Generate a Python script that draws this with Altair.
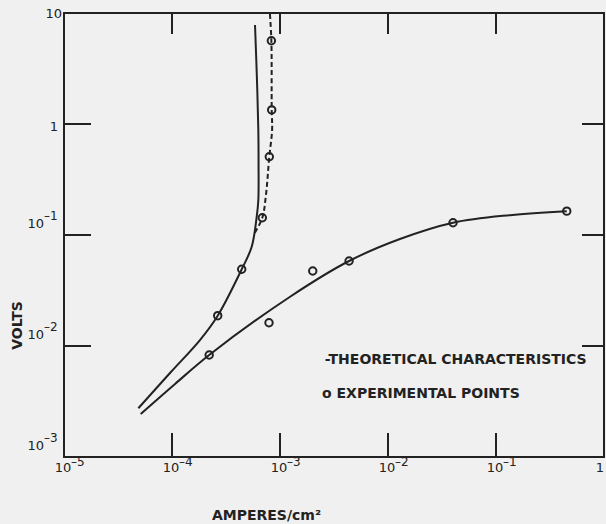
import altair as alt
import pandas as pd

# ---- data ----
exp_current = [8.32e-4, 8.38e-4, 7.96e-4, 6.86e-4, 4.42e-4, 2.65e-4, 2.21e-4, 7.91e-4, 2.01e-3, 4.36e-3, 4.0e-2, 4.52e-1]
exp_voltage = [5.62, 1.34, 0.507, 0.143, 0.0491, 0.01875, 0.0083, 0.0162, 0.0474, 0.0583, 0.129, 0.164]

# upper solid theoretical curve
theo_a_current = [4.88e-5, 9.58e-5, 1.815e-4, 2.65e-4, 4.42e-4, 5.47e-4, 6.08e-4, 6.30e-4, 6.33e-4, 6.30e-4, 6.12e-4, 5.87e-4]
theo_a_voltage = [2.75e-3, 5.71e-3, 0.01132, 0.01875, 0.0491, 0.0785, 0.145, 0.2066, 0.45, 0.883, 2.49, 7.8]

# dashed theoretical branch
theo_b_current = [5.85e-4, 6.86e-4, 7.41e-4, 7.96e-4, 8.45e-4, 8.38e-4, 8.32e-4, 8.07e-4]
theo_b_voltage = [0.105, 0.143, 0.229, 0.507, 0.883, 1.34, 5.62, 9.8]

# lower solid theoretical curve
theo_c_current = [5.13e-5, 1.067e-4, 2.21e-4, 1.24e-3, 4.36e-3, 0.0129, 0.040, 0.135, 0.452]
theo_c_voltage = [2.44e-3, 4.55e-3, 0.0083, 0.0278, 0.0583, 0.092, 0.129, 0.151, 0.164]

# tick labels
x_label_values = [1e-5, 1e-4, 1e-3, 1e-2, 1e-1]
x_label_bases = ["10", "10", "10", "10", "10"]
x_label_exps = ["–5", "–4", "–3", "–2", "–1"]
x_last_value = [1]
x_last_text = ["1"]
y_label_values = [1e-3, 1e-2, 1e-1]
y_label_bases = ["10", "10", "10"]
y_label_exps = ["–3", "–2", "–1"]
y_one_value = [1]
y_one_text = ["1"]
y_top_value = [10]
y_top_text = ["10"]

inner_x_ticks = [1e-4, 1e-3, 1e-2, 1e-1]
inner_y_ticks = [1e-2, 1e-1, 1]

legend_text = ["-THEORETICAL  CHARACTERISTICS", "o EXPERIMENTAL  POINTS"]
legend_current = [2.6e-3, 2.45e-3]
legend_voltage = [7.48e-3, 3.70e-3]

INK = "#222222"
FONT = "DejaVu Sans"

def curve_df(cur, vol):
    return pd.DataFrame({"I": cur, "V": vol, "order": list(range(len(cur)))})

xscale = alt.Scale(type="log", domain=[1e-5, 1], nice=False)
yscale = alt.Scale(type="log", domain=[1e-3, 10], nice=False)

xaxis = alt.Axis(
    labels=False, ticks=False, domain=False, grid=False,
    title="AMPERES/cm²", titleFont=FONT, titleFontSize=14, titleFontWeight="bold",
    titleColor=INK, titleX=202, titleY=58, titleAlign="center", titleBaseline="middle",
)
yaxis = alt.Axis(
    labels=False, ticks=False, domain=False, grid=False,
    title="VOLTS", titleFont=FONT, titleFontSize=14, titleFontWeight="bold",
    titleColor=INK, titleAngle=270, titleX=-47, titleY=312,
    titleAlign="center", titleBaseline="middle",
)

X = alt.X("I:Q", scale=xscale, axis=xaxis)
Y = alt.Y("V:Q", scale=yscale, axis=yaxis)

line_a = alt.Chart(curve_df(theo_a_current, theo_a_voltage)).mark_line(
    color=INK, strokeWidth=2, interpolate="catmull-rom"
).encode(x=X, y=Y, order="order:Q")

line_b = alt.Chart(curve_df(theo_b_current, theo_b_voltage)).mark_line(
    color=INK, strokeWidth=2, strokeDash=[5, 3], interpolate="catmull-rom"
).encode(x=X, y=Y, order="order:Q")

line_c = alt.Chart(curve_df(theo_c_current, theo_c_voltage)).mark_line(
    color=INK, strokeWidth=2, interpolate="catmull-rom"
).encode(x=X, y=Y, order="order:Q")

points = alt.Chart(pd.DataFrame({"I": exp_current, "V": exp_voltage})).mark_point(
    shape="circle", filled=False, size=55, strokeWidth=2, color=INK, opacity=1
).encode(x=X, y=Y)

# inward ticks
xt = pd.DataFrame({"I": inner_x_ticks})
yt = pd.DataFrame({"V": inner_y_ticks})
tick_top = alt.Chart(xt).mark_rule(color=INK, strokeWidth=2).encode(
    x=X, y=alt.value(0), y2=alt.value(21))
tick_bottom = alt.Chart(xt).mark_rule(color=INK, strokeWidth=2).encode(
    x=X, y=alt.value(420), y2=alt.value(444))
tick_left = alt.Chart(yt).mark_rule(color=INK, strokeWidth=2).encode(
    y=Y, x=alt.value(0), x2=alt.value(27))
tick_right = alt.Chart(yt).mark_rule(color=INK, strokeWidth=2).encode(
    y=Y, x=alt.value(518), x2=alt.value(540))

# tick labels (base + superscript exponent)
xl = pd.DataFrame({"I": x_label_values, "b": x_label_bases, "e": x_label_exps})
x_base = alt.Chart(xl).mark_text(align="center", baseline="middle", font=FONT,
                                 fontSize=13, color=INK, dx=-1).encode(
    x=X, y=alt.value(455), text="b:N")
x_exp = alt.Chart(xl).mark_text(align="left", baseline="middle", font=FONT,
                                fontSize=12, color=INK, dx=7).encode(
    x=X, y=alt.value(449), text="e:N")
x_last = alt.Chart(pd.DataFrame({"I": x_last_value, "b": x_last_text})).mark_text(
    align="center", baseline="middle", font=FONT, fontSize=13, color=INK, dx=-4).encode(
    x=X, y=alt.value(455), text="b:N")

yl = pd.DataFrame({"V": y_label_values, "b": y_label_bases, "e": y_label_exps})
y_base = alt.Chart(yl).mark_text(align="right", baseline="middle", font=FONT,
                                 fontSize=13, color=INK, dy=-11).encode(
    y=Y, x=alt.value(-20), text="b:N")
y_exp = alt.Chart(yl).mark_text(align="left", baseline="middle", font=FONT,
                                fontSize=12, color=INK, dy=-19).encode(
    y=Y, x=alt.value(-20), text="e:N")
y_one = alt.Chart(pd.DataFrame({"V": y_one_value, "b": y_one_text})).mark_text(
    align="right", baseline="middle", font=FONT, fontSize=13, color=INK, dy=3).encode(
    y=Y, x=alt.value(-6), text="b:N")
y_top = alt.Chart(pd.DataFrame({"V": y_top_value, "b": y_top_text})).mark_text(
    align="right", baseline="middle", font=FONT, fontSize=13, color=INK, dy=1).encode(
    y=Y, x=alt.value(-2), text="b:N")

legend = alt.Chart(pd.DataFrame({"I": legend_current, "V": legend_voltage, "t": legend_text})).mark_text(
    align="left", baseline="middle", font=FONT, fontSize=14, fontWeight="bold", color=INK
).encode(x=X, y=Y, text="t:N")

chart = alt.layer(
    tick_top, tick_bottom, tick_left, tick_right, line_a, line_b, line_c, points,
    x_base, x_exp, x_last, y_base, y_exp, y_one, y_top, legend
).properties(
    width=540, height=444,
    padding={"left": 64, "top": 13, "right": 2, "bottom": 67},
    autosize=alt.AutoSizeParams(type="none"),
    background="#f0f0f0",
).configure_view(stroke=INK, strokeWidth=2)

chart.save("out.html", embed_options={"renderer": "svg", "actions": False})
